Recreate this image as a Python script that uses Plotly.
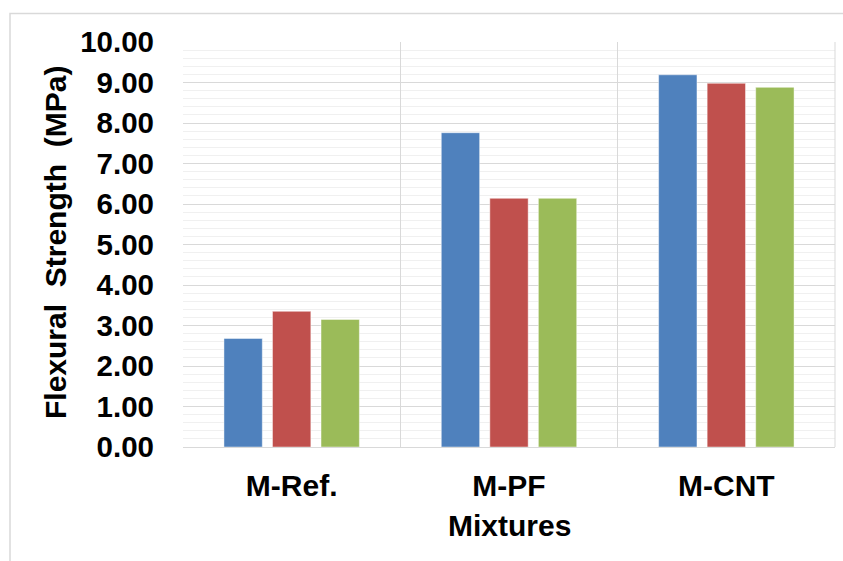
import plotly.graph_objects as go

categories = ["M-Ref.", "M-PF", "M-CNT"]
series_names = ["Series 1", "Series 2", "Series 3"]
series_values = [
    [2.68, 7.76, 9.19],
    [3.35, 6.14, 8.98],
    [3.15, 6.14, 8.88],
]
colors = ["#4F81BD", "#C0504D", "#9BBB59"]
y_ticks = [0, 1, 2, 3, 4, 5, 6, 7, 8, 9, 10]

FONT = "Arial, Liberation Sans, sans-serif"

fig = go.Figure()
for name, vals, col in zip(series_names, series_values, colors):
    fig.add_trace(go.Bar(
        x=categories, y=vals, name=name,
        marker=dict(color=col, line=dict(color="rgba(255,255,255,0.45)", width=1)),
    ))

W, H = 843, 561
L, R, T, B = 183, 8, 42, 114
pw, ph = W - L - R, H - T - B

fig.update_layout(
    width=W, height=H,
    margin=dict(l=L, r=R, t=T, b=B),
    paper_bgcolor="white", plot_bgcolor="white",
    barmode="group", bargap=0.33, bargroupgap=0.21,
    showlegend=False,
    font=dict(family=FONT, size=30, color="black"),
)
fig.update_yaxes(
    range=[0, 10], tickvals=y_ticks, tickformat=".2f",
    showgrid=True, gridcolor="#d9d9d9", gridwidth=1,
    minor=dict(dtick=0.2, showgrid=True, gridcolor="#f0f0f0", gridwidth=1),
    zeroline=False, showline=False,
    tickfont=dict(family=FONT, size=29.5, color="black", weight="bold"),
    ticklabelstandoff=28,
)
fig.update_xaxes(
    tickson="boundaries", showgrid=True, gridcolor="#d9d9d9", gridwidth=1,
    showline=True, linecolor="#d9d9d9", linewidth=1,
    tickfont=dict(family=FONT, size=30, color="black", weight="bold"),
    ticks="", ticklabelstandoff=12,
    mirror=False,
)

# axis titles
fig.add_annotation(
    text="<b>Flexural  Strength  (MPa)</b>", textangle=-90,
    xref="paper", yref="paper",
    x=(55 - L) / pw, y=(H - B - 243) / ph,
    showarrow=False, font=dict(family=FONT, size=30, color="black"),
    xanchor="center", yanchor="middle",
)
fig.add_annotation(
    text="<b>Mixtures</b>",
    xref="paper", yref="paper",
    x=(509 - L) / pw, y=(H - B - 525) / ph,
    showarrow=False, font=dict(family=FONT, size=30, color="black"),
    xanchor="center", yanchor="middle",
)

# outer chart frame
fig.add_shape(
    type="rect", xref="paper", yref="paper",
    x0=(10 - L) / pw, x1=(W + 20 - L) / pw,
    y0=(H - B - (H + 20)) / ph, y1=(H - B - 13.5) / ph,
    line=dict(color="#d9d9d9", width=1.5), fillcolor="rgba(0,0,0,0)",
    layer="below",
)
# right plot edge
fig.add_shape(
    type="line", xref="paper", yref="paper", x0=1, x1=1, y0=0, y1=1,
    line=dict(color="#d9d9d9", width=1),
)

fig.write_html(
    "out.html",
    config={"displayModeBar": False},
    post_script="document.body.style.margin='0';document.body.style.overflow='hidden';",
)
